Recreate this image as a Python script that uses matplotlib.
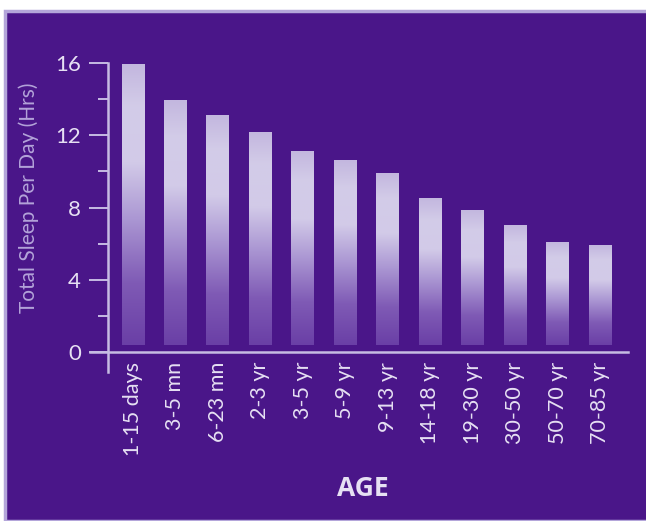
import numpy as np
import matplotlib
matplotlib.use("Agg")
import matplotlib.pyplot as plt
from matplotlib.colors import LinearSegmentedColormap
from matplotlib.patches import Rectangle

# ============================================
# DATA
# ============================================

faixas = [
    "1-15 days", "3-5 mn", "6-23 mn", "2-3 yr", "3-5 yr", "5-9 yr",
    "9-13 yr", "14-18 yr", "19-30 yr", "30-50 yr", "50-70 yr", "70-85 yr",
]
horas_sono = [15.9, 13.95, 13.1, 12.15, 11.1, 10.6, 9.9, 8.5, 7.85, 7.0, 6.1, 5.9]
ticks_y = [0, 4, 8, 12, 16]
ticks_y_menores = [2, 6, 10, 14]

# ============================================
# STYLE
# ============================================

fundo = "#4a1689"
linha = "#c6bce3"
texto = "#e6e0f3"
texto_eixo = "#b3a3d9"
base_barra = 0.4
largura = 0.54

plt.rcParams["font.family"] = ["Lato", "DejaVu Sans"]

grad = LinearSegmentedColormap.from_list(
    "barra",
    [
        (0.00, "#6a3fa6"),
        (0.22, "#7f5ab5"),
        (0.45, "#ab97d3"),
        (0.65, "#d2cae8"),
        (0.85, "#d3cce8"),
        (1.00, "#c3b7df"),
    ],
)

# ============================================
# FIGURE
# ============================================

fig = plt.figure(figsize=(6.46, 5.21), dpi=100, facecolor="white")

# purple panel with a thin light frame
painel = Rectangle(
    (5 / 646, 0), 1.0, 1 - 11 / 521,
    transform=fig.transFigure, facecolor=fundo,
    edgecolor="#b4a6da", linewidth=2.5, zorder=-1,
)
fig.patches.append(painel)

ax = fig.add_axes([90 / 646, (521 - 372) / 521, 538 / 646, 309 / 521])
ax.set_facecolor("none")
ax.set_zorder(1)

ax.set_xlim(-1.013, 11.66)
ax.set_ylim(-1.1, 16)

# bars with a vertical gradient
gradiente = np.linspace(0, 1, 256).reshape(-1, 1)
for i, valor in enumerate(horas_sono):
    ax.imshow(
        gradiente, cmap=grad, origin="lower", aspect="auto",
        extent=[i - largura / 2, i + largura / 2, base_barra, valor],
        zorder=2,
    )

# axes lines
for lado in ["top", "right"]:
    ax.spines[lado].set_visible(False)
ax.spines["left"].set_position(("data", -0.589))
ax.spines["bottom"].set_position(("data", 0))
for lado in ["left", "bottom"]:
    ax.spines[lado].set_color(linha)
    ax.spines[lado].set_linewidth(1.8)
    ax.spines[lado].set_zorder(3)

ax.set_yticks(ticks_y)
ax.set_yticks(ticks_y_menores, minor=True)
ax.tick_params(axis="y", which="major", length=13.5, width=1.4,
               color=linha, labelcolor=texto, labelsize=16, pad=6)
ax.tick_params(axis="y", which="minor", length=7, width=1.4, color=linha)

ax.set_xticks(range(len(faixas)))
ax.set_xticklabels(faixas, rotation=90, va="top", ha="center")
ax.tick_params(axis="x", length=0, labelcolor=texto, labelsize=15.5, pad=7)

ax.set_ylabel("Total Sleep Per Day (Hrs)", color=texto_eixo, fontsize=15)
ax.yaxis.set_label_coords(-0.095, 0.563)

fig.text(363 / 646, 1 - 488 / 521, "AGE", color=texto, fontsize=19,
         fontweight="bold", ha="center", va="center",
         family=["Open Sans", "DejaVu Sans"])

fig.savefig("out.png", dpi=100, facecolor=fig.get_facecolor())
